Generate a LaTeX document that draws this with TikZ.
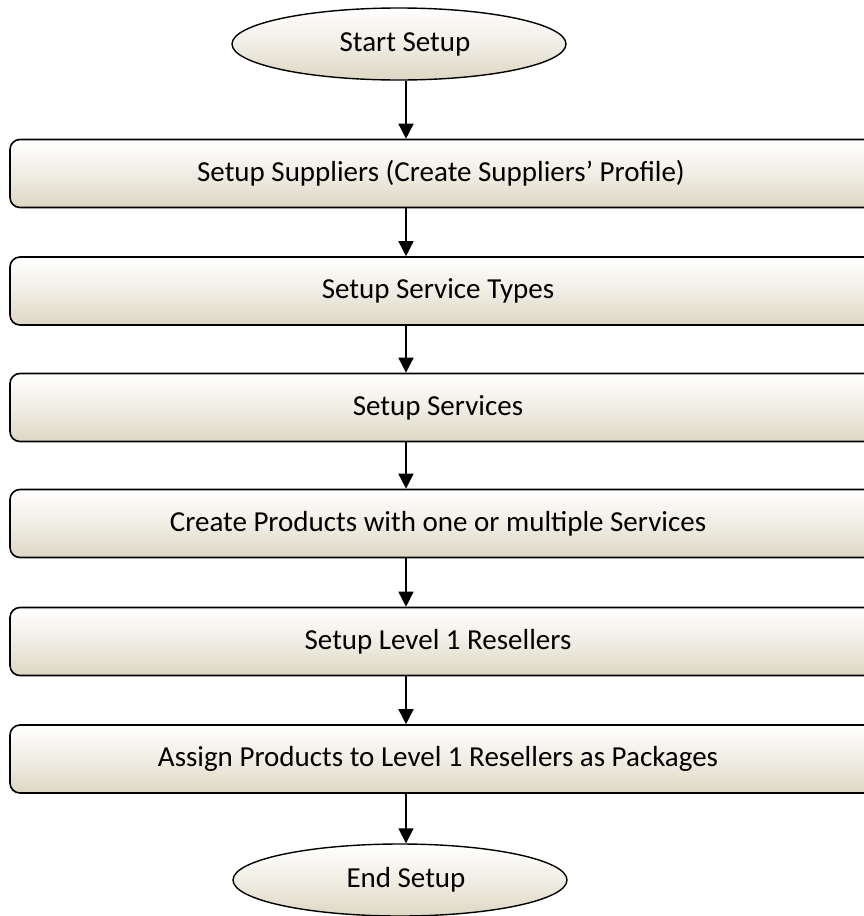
\documentclass[tikz,border=0pt]{standalone}
\usepackage{fontspec}
\setmainfont{Carlito}
\usetikzlibrary{shapes.geometric,arrows.meta}
\definecolor{beige}{RGB}{221,215,195}
\tikzset{
  stepbox/.style={draw=black, line width=1.6pt, rounded corners=10pt,
    top color=white, bottom color=beige, middle color=white!55!beige,
    minimum width=868pt, minimum height=68pt, inner sep=0pt,
    font=\fontsize{29pt}{34pt}\selectfont},
  term/.style={draw=black, line width=1.4pt, ellipse,
    top color=white, bottom color=beige, middle color=white!55!beige,
    minimum width=334pt, minimum height=72pt, inner sep=0pt,
    font=\fontsize{29pt}{34pt}\selectfont},
  arr/.style={line width=1.5pt, -{Triangle[length=15pt,width=15pt]}}
}
\begin{document}
\begin{tikzpicture}[x=1pt,y=-1pt]
\useasboundingbox (0,0) rectangle (864,916);
\clip (0,0) rectangle (864,916);
\coordinate (ax) at (406,0);
\node[term] (start) at (399,44) {\hspace*{12pt}Start Setup};
\node[stepbox] (b1) at (444,173.5) {\hspace*{-6pt}Setup Suppliers (Create Suppliers’ Profile)};
\node[stepbox] (b2) at (444,291) {\hspace*{-12pt}Setup Service Types};
\node[stepbox] (b3) at (444,407.5) {\hspace*{-12pt}Setup Services};
\node[stepbox] (b4) at (444,523.5) {\hspace*{-12pt}Create Products with one or multiple Services};
\node[stepbox] (b5) at (444,641.5) {\hspace*{-12pt}Setup Level 1 Resellers};
\node[stepbox] (b6) at (444,759) {\hspace*{-12pt}Assign Products to Level 1 Resellers as Packages};
\node[term] (end) at (400,880) {\hspace*{12pt}End Setup};
\draw[arr] (start.south -| ax) -- (b1.north -| ax);
\draw[arr] (b1.south -| ax) -- (b2.north -| ax);
\draw[arr] (b2.south -| ax) -- (b3.north -| ax);
\draw[arr] (b3.south -| ax) -- (b4.north -| ax);
\draw[arr] (b4.south -| ax) -- (b5.north -| ax);
\draw[arr] (b5.south -| ax) -- (b6.north -| ax);
\draw[arr] (b6.south -| ax) -- (end.north -| ax);
\end{tikzpicture}
\end{document}
